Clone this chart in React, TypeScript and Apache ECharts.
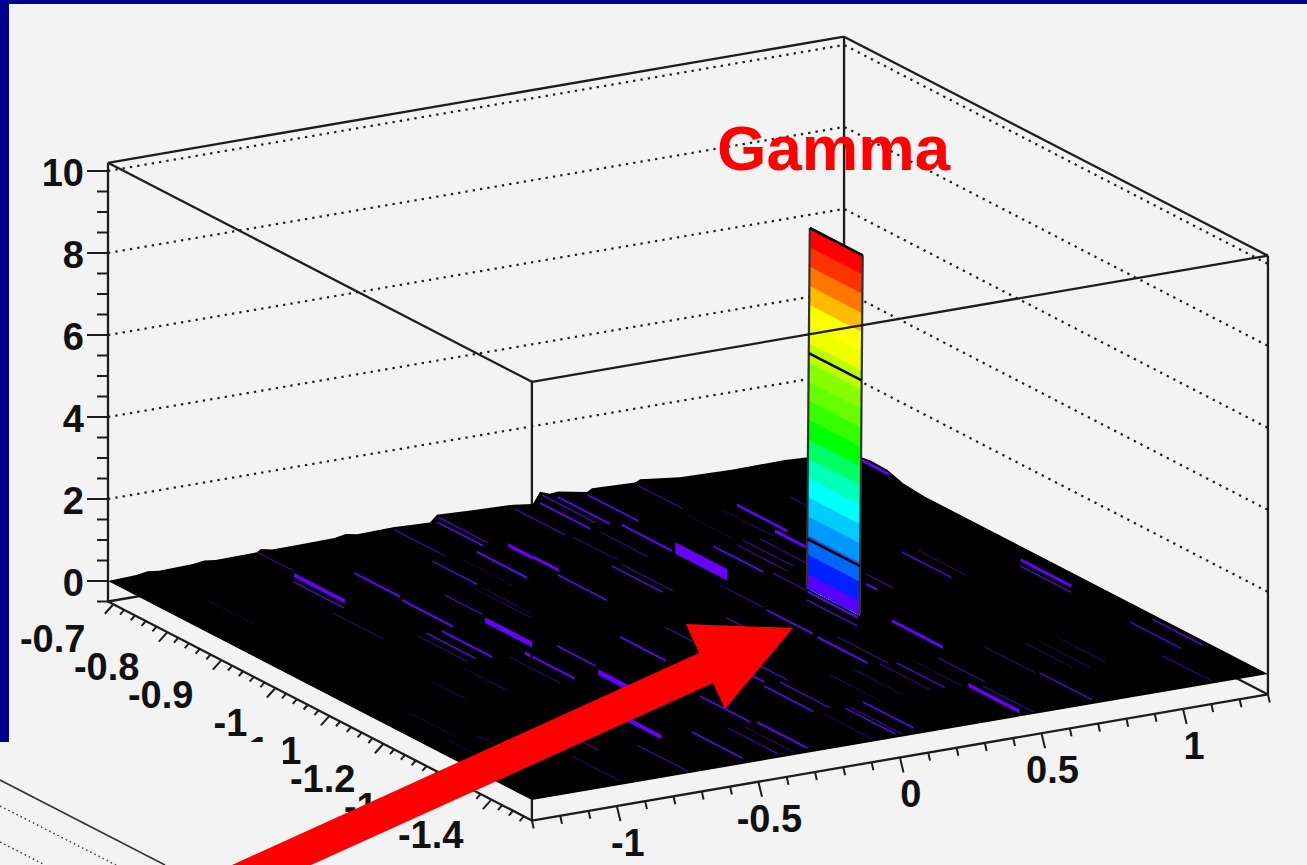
import React, { useEffect, useRef } from "react";
import * as echarts from "echarts";

// ---- axis ticks and labels ----
const X_LABELS = ["-1", "-0.5", "0", "0.5", "1"];
const X_MAJOR = [-1, -0.5, 0, 0.5, 1];
const Y_LABELS = ["-0.7", "-0.8", "-0.9", "-1", "-1.1", "-1.2", "-1.3", "-1.4"];
const Y_MAJOR = [-0.7, -0.8, -0.9, -1, -1.1, -1.2, -1.3, -1.4];
const Z_LABELS = ["0", "2", "4", "6", "8", "10"];
const Z_MAJOR = [0, 2, 4, 6, 8, 10];

// ---- the tall bin ----
const BAR_X = 0.518;
const BAR_Y = -1.031;
const BAR_LEN = 0.098;
const BAR_LEVELS = [8.78, 8.31, 7.84, 7.37, 6.91, 6.44, 5.97, 5.5, 5.03, 4.57, 4.1, 3.63, 3.16, 2.69, 2.22, 1.75, 1.29, 0.82, 0.35, 0];
const BAR_COLORS = ["#ff0000", "#ff3300", "#ff7700", "#ffbb00", "#ffff00", "#eeff00", "#bbff00", "#88ff00", "#66ff00", "#33ff00", "#00ff00", "#00ff66", "#00ffbb", "#00ffff", "#00ccff", "#0099ff", "#0066ff", "#0022ff", "#5500ff"];
const BAR_SPLITS = [1.2, 5.73];

// ---- back edges of the floor: x, height and y, height ----
const BACK_EDGE: number[][] = [
  [-1.3, 0], [-1.2, 0.03], [-1.16, 0.07], [-1.12, 0.04], [-1.0, 0.06], [-0.96, 0.1], [-0.92, 0.06], [-0.774, 0.08],
  [-0.76, 0.14], [-0.72, 0.08], [-0.622, 0.09], [-0.5, 0.1], [-0.46, 0.15], [-0.42, 0.1], [-0.293, 0.12], [-0.163, 0.08],
  [-0.138, 0.24], [0.0, 0.2], [0.131, 0.17], [0.201, 0.1], [0.226, 0.37], [0.26, 0.28], [0.29, 0.3], [0.392, 0.17],
  [0.41, 0.24], [0.562, 0.2], [0.58, 0.26], [0.72, 0.14], [0.908, 0.11], [1.091, 0.12], [1.293, 0.05], [1.3, 0.1],
];
const RIGHT_EDGE: number[][] = [[-0.74, 0.2], [-0.77, 0.18], [-0.8, 0.05], [-0.84, 0]];

// ---- violet bins on the floor: x, y start, length along y, size ----
const STRONG_STRIPES: number[][] = [
  [-0.776, -0.76, 0.094, 0.02], [-0.606, -0.782, 0.085, 0.01], [-0.618, -0.877, 0.094, 0.01], [-0.172, -0.782, 0.093, 0.01],
  [-0.5, -0.969, 0.087, 0.026], [-0.671, -0.979, 0.093, 0.01], [-0.054, -0.778, 0.045, 0.018], [-0.049, -0.821, 0.048, 0.015],
  [-0.563, -1.076, 0.01, 0.015], [-0.563, -1.09, 0.078, 0.01], [-0.467, -1.161, 0.096, 0.026], [-0.633, -1.272, 0.093, 0.02],
  [0.247, -0.679, 0.093, 0.009], [0.325, -0.671, 0.096, 0.009], [0.351, -0.776, 0.093, 0.01], [0.374, -0.863, 0.096, 0.052],
  [0.759, -0.775, 0.094, 0.013], [0.726, -0.863, 0.057, 0.015], [0.294, -1.168, 0.093, 0.01], [0.501, -1.042, 0.093, 0.01],
  [1.32, -0.713, 0.05, 0.015], [0.696, -1.048, 0.02, 0.01], [-0.302, -1.369, 0.093, 0.01], [0.575, -1.159, 0.094, 0.015],
  [0.448, -1.367, 0.094, 0.018], [1.23, -1.054, 0.094, 0.015],
];
const MEDIUM_STRIPES: number[][] = [
  [-0.812, -0.778, 0.094, 0.006], [-0.338, -0.786, 0.083, 0.006], [-0.478, -0.883, 0.07, 0.005], [-0.723, -0.977, 0.091, 0.0065],
  [-0.124, -0.683, 0.085, 0.008], [-0.096, -0.673, 0.089, 0.005], [-0.442, -1.072, 0.072, 0.008], [0.293, -0.659, 0.098, 0.005],
  [0.415, -0.68, 0.093, 0.008], [-0.075, -0.881, 0.091, 0.008], [0.114, -0.882, 0.093, 0.0065], [0.485, -0.875, 0.093, 0.008],
  [0.299, -1.072, 0.085, 0.008], [0.457, -1.063, 0.093, 0.006], [-0.229, -1.077, 0.085, 0.009], [-0.006, -1.177, 0.093, 0.005],
  [-0.077, -1.171, 0.093, 0.008], [-0.036, -1.272, 0.093, 0.005], [-0.099, -1.275, 0.091, 0.008], [-0.32, -1.273, 0.093, 0.008],
  [-0.526, -1.366, 0.093, 0.008], [0.003, -1.372, 0.093, 0.006], [0.372, -1.274, 0.089, 0.005], [0.7, -1.367, 0.096, 0.006],
  [0.082, -1.364, 0.093, 0.008], [1.197, -1.07, 0.094, 0.006], [1.275, -1.274, 0.094, 0.006], [1.201, -1.272, 0.094, 0.006],
  [0.955, -0.978, 0.093, 0.006],
];
const FAINT_STRIPES: number[][] = [
  [-0.756, -0.681, 0.067, 0.003], [-0.867, -0.88, 0.093, 0.0025], [-0.277, -0.685, 0.093, 0.0035], [-1.135, -0.787, 0.089, 0.0015],
  [-0.76, -0.981, 0.091, 0.0025], [0.596, -0.676, 0.085, 0.0035], [0.148, -0.884, 0.093, 0.003], [0.554, -0.883, 0.093, 0.004],
  [0.595, -0.872, 0.093, 0.003], [0.645, -0.878, 0.087, 0.0035], [0.505, -0.975, 0.065, 0.004], [0.303, -0.983, 0.08, 0.003],
  [0.349, -1.177, 0.093, 0.004], [0.747, -1.021, 0.05, 0.004], [0.941, -0.778, 0.031, 0.003], [-0.059, -1.071, 0.093, 0.004],
  [0.152, -1.075, 0.093, 0.0035], [0.149, -0.684, 0.093, 0.004], [0.16, -0.786, 0.081, 0.002], [0.257, -0.785, 0.089, 0.003],
  [0.575, -0.779, 0.085, 0.002], [0.696, -0.782, 0.093, 0.002], [-0.41, -1.372, 0.093, 0.004], [-0.739, -1.375, 0.093, 0.004],
  [-0.968, -1.375, 0.089, 0.002], [-0.867, -1.281, 0.091, 0.0035], [-0.36, -1.377, 0.093, 0.002], [0.322, -1.269, 0.093, 0.0025],
  [0.427, -1.273, 0.093, 0.002], [0.509, -1.277, 0.089, 0.0035], [0.482, -1.376, 0.093, 0.0035], [0.688, -1.272, 0.093, 0.0025],
  [0.022, -1.371, 0.096, 0.003], [-0.084, -1.375, 0.093, 0.002], [0.225, -1.274, 0.089, 0.0015], [0.133, -1.276, 0.093, 0.0015],
  [0.815, -1.28, 0.089, 0.0015], [0.862, -1.277, 0.098, 0.0015], [0.93, -1.278, 0.089, 0.0015], [1.114, -1.378, 0.091, 0.003],
  [1.006, -0.98, 0.091, 0.002], [-0.802, -1.085, 0.083, 0.0015], [-0.956, -1.112, 0.059, 0.0015], [-1.177, -1.185, 0.087, 0.001],
  [-1.214, -1.275, 0.046, 0.0015], [-1.114, -1.278, 0.031, 0.0015], [-0.624, -1.08, 0.093, 0.0015], [-0.367, -0.884, 0.098, 0.002],
  [-0.344, -0.881, 0.093, 0.0015], [-0.25, -0.797, 0.093, 0.0015],
];

// ---- box limits and view ----
const X_RANGE = [-1.3, 1.3];
const Y_RANGE = [-0.69, -1.475];
const Z_RANGE = [-0.5, 10.2];

const project = (x: number, y: number, z: number) => {
  const s = x - X_RANGE[0];
  const t = Y_RANGE[0] - y;
  return [108 + s * 283.1 + t * 540, 581 - s * 48.5 + t * 279 - z * 41];
};

const INK = "#1c1c1c";
const VIOLET = "#6600ff";
const FONT = "Liberation Sans";
const STRIPE_FACE = 5.4; // size of a floor bin to the height of its violet face

export default function App() {
  const ref = useRef<HTMLDivElement>(null);
  useEffect(() => {
    const chart = echarts.init(ref.current!, undefined, { renderer: "svg" });

    const pt = (api: any, x: number, y: number, z: number) => {
      const p = project(x, y, z);
      return api.coord([p[0], p[1]]);
    };
    const seg = (a: number[], b: number[], width = 2.3, dash?: number[], stroke = INK) => ({
      type: "line",
      shape: { x1: a[0], y1: a[1], x2: b[0], y2: b[1] },
      style: { stroke, lineWidth: width, lineDash: dash, fill: "none" },
    });
    const layer = (name: string, z: number, data: any[], render: (row: any, api: any, i: number) => any) => ({
      type: "custom",
      name,
      z,
      silent: true,
      clip: false,
      coordinateSystem: "cartesian2d",
      data: data.map((row) => ({ value: Array.isArray(row) ? row : [row, 0] })),
      renderItem: (p: any, api: any) => render(data[p.dataIndex], api, p.dataIndex),
    });

    const [x0, x1] = X_RANGE;
    const [y0, y1] = Y_RANGE;
    const [zb, zt] = Z_RANGE;

    const backEdges = [
      [x0, y0, zt, x1, y0, zt], [x1, y0, zt, x1, y1, zt], [x1, y0, zb, x1, y0, zt],
      [x0, y0, zb, x0, y0, zt], [x1, y1, zb, x1, y1, zt], [x0, y1, zb, x0, y1, zt],
      [x0, y0, zb, x1, y0, zb], [x1, y0, zb, x1, y1, zb], [x0, y0, zb, x0, y1, zb], [x0, y1, zb, x1, y1, zb],
    ];
    const frontEdges = [[x0, y0, zt, x0, y1, zt], [x0, y1, zt, x1, y1, zt]];

    const xTicks: number[] = [];
    for (let i = -13; i <= 13; i++) xTicks.push(i / 10);
    const yTicks: number[] = [];
    for (let i = 70; i <= 146; i += 2) yTicks.push(-i / 100);
    const zTicks: number[] = [];
    for (let i = -1; i <= 20; i++) zTicks.push(i / 2);

    const isMajor = (list: number[], v: number) => list.some((m) => Math.abs(m - v) < 1e-6);

    // Each floor bin shows as an upright violet face, so its ends are vertical
    const stripe = (row: number[], api: any) => {
      const [x, y, len, size] = row;
      const h = (size * STRIPE_FACE) / 2;
      return {
        type: "polygon",
        shape: {
          points: [pt(api, x, y, h), pt(api, x, y - len, h), pt(api, x, y - len, -h), pt(api, x, y, -h)],
        },
        style: { fill: VIOLET },
      };
    };

    const lean = 0.34; // the reference's tall bin leans very slightly
    const barPt = (api: any, side: number, z: number) => {
      const p = pt(api, BAR_X, BAR_Y - side * BAR_LEN, z);
      return [p[0] + z * lean, p[1]];
    };

    const text = (s: string, at: number[], dx: number, dy: number, align: string) => ({
      type: "text",
      x: at[0] + dx,
      y: at[1] + dy,
      style: {
        text: s,
        fontFamily: FONT,
        fontWeight: "bold",
        fontSize: 38,
        fill: "#111",
        textAlign: align,
        textVerticalAlign: "middle",
      },
    });

    const option: any = {
      animation: false,
      backgroundColor: "#000090",
      grid: { left: 0, right: 0, top: 0, bottom: 0, containLabel: false },
      xAxis: { type: "value", min: 0, max: 1307, show: false },
      yAxis: { type: "value", min: 0, max: 865, inverse: true, show: false },
      graphic: [
        { type: "rect", z: -1, shape: { x: 9, y: 4, width: 1298, height: 861 }, style: { fill: "#f3f3f3" } },
        { type: "rect", z: 30, shape: { x: 0, y: 742, width: 283, height: 123 }, style: { fill: "#f3f3f3" } },
        { type: "line", z: 31, shape: { x1: 0, y1: 780, x2: 165, y2: 865 }, style: { stroke: "#333", lineWidth: 1.6 } },
        { type: "line", z: 31, shape: { x1: 0, y1: 806, x2: 116, y2: 865 }, style: { stroke: "#444", lineWidth: 1.5, lineDash: [1.6, 3] } },
        { type: "line", z: 31, shape: { x1: 0, y1: 842, x2: 45, y2: 865 }, style: { stroke: "#444", lineWidth: 1.5, lineDash: [1.6, 3] } },
        {
          type: "polygon",
          z: 40,
          shape: { points: [[232, 865], [699, 653], [686, 624], [793, 628], [725, 709], [713, 683], [311, 865]] },
          style: { fill: "#ff0000" },
        },
        {
          type: "text",
          z: 41,
          x: 717,
          y: 148,
          style: {
            text: "Gamma",
            fontFamily: FONT,
            fontWeight: "bold",
            fontSize: 63.5,
            fill: "#ff0000",
            textAlign: "left",
            textVerticalAlign: "middle",
          },
        },
      ],
      series: [
        layer("box back", 2, backEdges, (r, api) => seg(pt(api, r[0], r[1], r[2]), pt(api, r[3], r[4], r[5]))),
        layer("z grid", 2, Z_MAJOR.slice(1), (z, api) => ({
          type: "polyline",
          shape: { points: [pt(api, x0, y0, z), pt(api, x1, y0, z), pt(api, x1, y1, z)] },
          style: { stroke: INK, lineWidth: 2.2, lineDash: [2.3, 5.1], fill: "none" },
        })),
        layer("floor", 3, BACK_EDGE, (_r, api, i) =>
          i === 0
            ? {
                type: "polygon",
                shape: {
                  points: [
                    ...BACK_EDGE.map((e) => pt(api, e[0], y0, e[1])),
                    ...RIGHT_EDGE.map((e) => pt(api, x1, e[0], e[1])),
                    pt(api, x1, y1, 0),
                    pt(api, x0, y1, 0),
                  ],
                },
                style: { fill: "#000" },
              }
            : { type: "group", children: [] },
        ),
        layer("faint bins", 4, FAINT_STRIPES, stripe),
        layer("medium bins", 4, MEDIUM_STRIPES, stripe),
        layer("strong bins", 4, STRONG_STRIPES, stripe),
        // painted top to bottom, each band reaching the floor, so no seam shows between them
        layer("bar bands", 5, BAR_COLORS, (c, api, i) => ({
          type: "polygon",
          shape: {
            points: [
              barPt(api, 0, BAR_LEVELS[i]),
              barPt(api, 1, BAR_LEVELS[i]),
              barPt(api, 1, 0),
              barPt(api, 0, 0),
            ],
          },
          style: { fill: c },
        })),
        layer("bar outline", 6, [0, 1], (side, api) => seg(barPt(api, side, 0), barPt(api, side, BAR_LEVELS[0]), 2.2, undefined, "#333")),
        layer("bar top", 6, [BAR_LEVELS[0], ...BAR_SPLITS], (z, api) => seg(barPt(api, 0, z), barPt(api, 1, z), 2.6, undefined, "#000")),
        layer("box front", 7, frontEdges, (r, api) => seg(pt(api, r[0], r[1], r[2]), pt(api, r[3], r[4], r[5]))),
        layer("x ticks", 8, xTicks, (v, api) => {
          const a = pt(api, v, y1, zb);
          const m = isMajor(X_MAJOR, v);
          return seg(a, [a[0] + (m ? 3.6 : 1.8), a[1] + (m ? 15 : 8)], 2);
        }),
        layer("y ticks", 8, yTicks, (v, api) => {
          const a = pt(api, x0, v, zb);
          const m = isMajor(Y_MAJOR, v);
          return seg(a, [a[0] - (m ? 8.5 : 4.2), a[1] + (m ? 9.5 : 4.8)], 2);
        }),
        layer("z ticks", 8, zTicks, (v, api) => {
          const a = pt(api, x0, y0, v);
          return seg(a, [a[0] - (isMajor(Z_MAJOR, v) ? 21 : 11), a[1]], 2);
        }),
        layer("x labels", 9, X_MAJOR, (v, api, i) => text(X_LABELS[i], pt(api, v, y1, zb), 11, 37, "center")),
        layer("y labels", 9, Y_MAJOR, (v, api, i) => text(Y_LABELS[i], pt(api, x0, v, zb), -28, 35, "right")),
        layer("z labels", 9, Z_MAJOR, (v, api, i) => text(Z_LABELS[i], pt(api, x0, y0, v), -24, 2, "right")),
      ],
    };
    chart.setOption(option);
    return () => chart.dispose();
  }, []);
  return <div ref={ref} style={{ position: "fixed", left: 0, top: 0, width: 1307, height: 865 }} />;
}
